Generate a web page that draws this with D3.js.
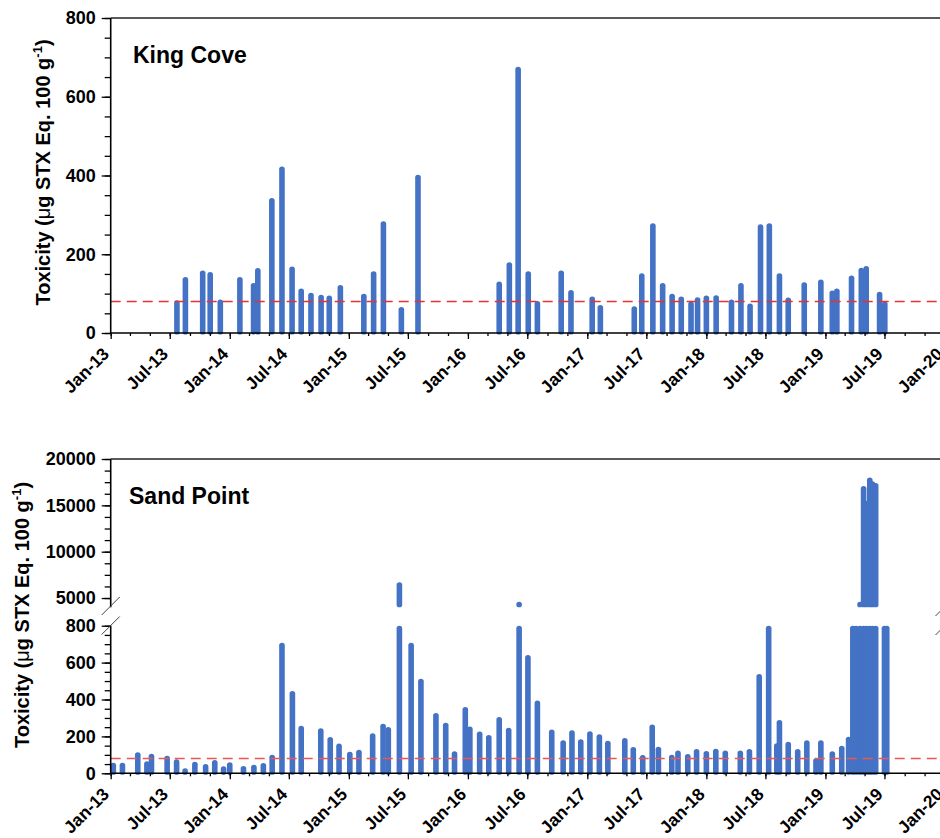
<!DOCTYPE html>
<html><head><meta charset="utf-8">
<script src="https://cdn.jsdelivr.net/npm/d3@7"></script>
<style>
body{margin:0;background:#fff}
svg{display:block}
text{font-family:"Liberation Sans",Arial,sans-serif;font-weight:bold;fill:#000}
</style>
</head><body>
<svg id="chart" width="940" height="838"></svg>
<script>
// ---------- data ----------
const xTickLabels = ["Jan-13","Jul-13","Jan-14","Jul-14","Jan-15","Jul-15","Jan-16","Jul-16","Jan-17","Jul-17","Jan-18","Jul-18","Jan-19","Jul-19","Jan-20"];
const xTickDates = ["2013-01-01","2013-07-01","2014-01-01","2014-07-01","2015-01-01","2015-07-01","2016-01-01","2016-07-01","2017-01-01","2017-07-01","2018-01-01","2018-07-01","2019-01-01","2019-07-01","2020-01-01"];

const kcDates = ["2013-07-23","2013-08-18","2013-10-10","2013-11-02","2013-12-03","2014-02-01","2014-03-15","2014-03-28","2014-05-10","2014-06-10","2014-07-11","2014-08-08","2014-09-07","2014-10-08","2014-11-02","2014-12-06","2015-02-16","2015-03-18","2015-04-17","2015-06-11","2015-08-01","2016-04-06","2016-05-07","2016-06-03","2016-07-04","2016-08-01","2016-10-13","2016-11-12","2017-01-16","2017-02-10","2017-05-25","2017-06-17","2017-07-21","2017-08-20","2017-09-18","2017-10-16","2017-11-15","2017-12-05","2018-01-01","2018-01-31","2018-03-19","2018-04-17","2018-05-15","2018-06-16","2018-07-13","2018-08-13","2018-09-09","2018-10-28","2018-12-18","2019-01-22","2019-02-05","2019-03-22","2019-04-21","2019-05-06","2019-06-16","2019-07-02"];
const kcValues = [83,142,159,155,85,142,127,165,343,423,169,113,102,97,95,122,100,157,284,66,402,131,180,676,157,81,159,109,93,71,68,152,279,127,100,93,80,91,95,96,85,127,75,276,279,152,90,129,136,108,113,146,166,170,105,80];

const spDates = ["2013-01-09","2013-02-06","2013-03-25","2013-04-22","2013-05-06","2013-06-23","2013-07-22","2013-08-17","2013-09-16","2013-10-19","2013-11-16","2013-12-13","2014-01-01","2014-02-12","2014-03-16","2014-04-14","2014-05-11","2014-06-10","2014-07-12","2014-08-08","2014-10-07","2014-11-05","2014-12-02","2015-01-04","2015-02-01","2015-03-15","2015-04-16","2015-05-02","2015-06-05","2015-07-11","2015-08-10","2015-09-25","2015-10-25","2015-11-21","2015-12-24","2016-01-07","2016-02-06","2016-03-05","2016-04-06","2016-05-05","2016-06-06","2016-07-03","2016-08-01","2016-09-14","2016-10-19","2016-11-15","2016-12-12","2017-01-09","2017-02-07","2017-03-05","2017-04-26","2017-05-22","2017-06-20","2017-07-19","2017-08-07","2017-09-17","2017-10-06","2017-11-05","2017-12-02","2018-01-01","2018-01-30","2018-02-28","2018-04-15","2018-05-13","2018-06-12","2018-07-11","2018-08-05","2018-08-13","2018-09-09","2018-10-08","2018-11-05","2018-12-03","2018-12-18","2019-01-22","2019-02-20","2019-03-13","2019-03-26","2019-04-05","2019-04-17","2019-04-28","2019-05-07","2019-05-17","2019-05-25","2019-06-04","2019-07-01","2019-07-08"];
const spValues = [57,57,114,65,106,95,76,27,63,50,72,38,60,40,47,56,101,708,446,258,244,197,161,117,128,217,269,251,6700,708,513,327,274,119,359,253,226,208,305,247,4600,641,395,237,179,233,184,228,212,177,191,143,99,265,144,101,123,105,132,121,133,123,123,132,538,1000,163,289,171,132,179,82,179,119,150,198,1500,2500,4600,17100,15500,18000,17600,17400,1200,1100];

const kcYTicks = [0,200,400,600,800];
const spLowTicks = [0,200,400,600,800];
const spHighTicks = [5000,10000,15000,20000];
const threshold = 80;

// ---------- setup ----------
const parse = d3.timeParse("%Y-%m-%d");
const svg = d3.select("#chart");
const BAR = "#4472c4";
const BW = 5.6;
const X0 = 110.7, X1 = 944.5;
const x = d3.scaleTime().domain([parse("2013-01-01"), parse("2020-01-01")]).range([X0, X1]);
const majorDates = xTickDates.map(parse);
const minorDates = d3.timeMonth.every(2).range(parse("2013-01-01"), parse("2020-01-02"));

function styleAxis(g){
  g.select(".domain").remove();
  g.selectAll(".tick line").attr("stroke","#000").attr("stroke-width",1.3);
  g.selectAll("text").attr("fill","#000").style("font-family",'"Liberation Sans",Arial,sans-serif').style("font-weight","bold");
}

function xAxis(yAxis){
  const gMin = svg.append("g").attr("transform",`translate(0,${yAxis})`)
    .call(d3.axisBottom(x).tickValues(minorDates).tickSize(3).tickFormat(""));
  styleAxis(gMin);
  const gMaj = svg.append("g").attr("transform",`translate(0,${yAxis})`)
    .call(d3.axisBottom(x).tickValues(majorDates).tickSize(6).tickFormat((d,i)=>xTickLabels[i]));
  styleAxis(gMaj);
  gMaj.selectAll("text").style("font-size","17.5px")
    .attr("text-anchor","end").attr("dy",0).attr("y",0)
    .attr("transform","translate(-1,22) rotate(-45)");
  svg.append("line").attr("x1",X0).attr("x2",X1).attr("y1",yAxis).attr("y2",yAxis)
    .attr("stroke","#000").attr("stroke-width",1.6);
}

function yAxisDraw(scale, majors, minors){
  const gMin = svg.append("g").attr("transform",`translate(${X0},0)`)
    .call(d3.axisLeft(scale).tickValues(minors).tickSize(6).tickFormat(""));
  styleAxis(gMin);
  const gMaj = svg.append("g").attr("transform",`translate(${X0},0)`)
    .call(d3.axisLeft(scale).tickValues(majors).tickSize(9).tickPadding(6).tickFormat(d3.format("d")));
  styleAxis(gMaj);
  gMaj.selectAll("text").style("font-size","18px");
  const r = scale.range();
  svg.append("line").attr("x1",X0).attr("x2",X0).attr("y1",r[0]).attr("y2",r[1])
    .attr("stroke","#000").attr("stroke-width",1.6);
}

function yTitle(cx, cy){
  const t = svg.append("text").attr("transform",`translate(${cx},${cy}) rotate(-90)`)
    .attr("text-anchor","middle").style("font-size","20px");
  t.append("tspan").text("Toxicity (");
  t.append("tspan").style("font-weight","normal").text("\u03bc");
  t.append("tspan").text("g STX Eq. 100 g");
  t.append("tspan").attr("dy",-8).style("font-size","13px").text("-1");
  t.append("tspan").attr("dy",8).text(")");
}

function bars(data, yScale, yBase, clipMax){
  svg.append("g").selectAll("rect").data(data).join("rect")
    .attr("x", d=>x(d.date)-BW/2).attr("width",BW).attr("rx",BW/2).attr("ry",2.6)
    .attr("y", d=>yScale(Math.min(d.v, clipMax)))
    .attr("height", d=>yBase - yScale(Math.min(d.v, clipMax)) + 1.5)
    .attr("fill", BAR);
}

function thresholdLine(yScale, color){
  svg.append("line").attr("x1",X0).attr("x2",X1)
    .attr("y1",yScale(threshold)).attr("y2",yScale(threshold))
    .attr("stroke",color).attr("stroke-width",1.6).attr("stroke-dasharray","10,6");
}

// ---------- King Cove ----------
const yK = d3.scaleLinear().domain([0,800]).range([333,18]);
const kcData = kcDates.map((d,i)=>({date:parse(d), v:kcValues[i]}));
svg.append("line").attr("x1",X0).attr("x2",X1).attr("y1",18).attr("y2",18).attr("stroke","#222").attr("stroke-width",1.6);
bars(kcData, yK, 333, 800);
thresholdLine(yK, "#e53333");
yAxisDraw(yK, kcYTicks, d3.range(0,801,50));
xAxis(333);
svg.append("text").attr("x",133).attr("y",63).style("font-size","23px").text("King Cove");
yTitle(50, 172.5);

// ---------- Sand Point ----------
const yLow = d3.scaleLinear().domain([0,800]).range([773.3,625.7]);
const yHigh = d3.scaleLinear().domain([4000,20000]).range([607.3,459]);
const spData = spDates.map((d,i)=>({date:parse(d), v:spValues[i]}));
svg.append("line").attr("x1",X0).attr("x2",X1).attr("y1",459).attr("y2",459).attr("stroke","#222").attr("stroke-width",1.6);
bars(spData, yLow, 773.3, 800);
// upper segment of broken axis
svg.append("g").selectAll("rect").data(spData.filter(d=>d.v>4000)).join("rect")
  .attr("x", d=>x(d.date)-BW/2).attr("width",BW).attr("rx",BW/2).attr("ry",2.6)
  .attr("y", d=>yHigh(d.v)).attr("height", d=>yHigh(4000)-yHigh(d.v))
  .attr("fill", BAR);
thresholdLine(yLow, "#f05555");
yAxisDraw(yLow, spLowTicks, d3.range(0,801,50));
yAxisDraw(yHigh, spHighTicks, d3.range(5000,20001,1250));
xAxis(773.3);
// break marks
[[X0,606],[X0,625.5],[X1,607],[X1,626]].forEach(([bx,by])=>{
  svg.append("line").attr("x1",bx-9).attr("y1",by+9).attr("x2",bx+9).attr("y2",by-9)
    .attr("stroke","#444").attr("stroke-width",1);
});
svg.append("text").attr("x",129).attr("y",504).style("font-size","23px").text("Sand Point");
yTitle(29, 615);
</script>
</body></html>
